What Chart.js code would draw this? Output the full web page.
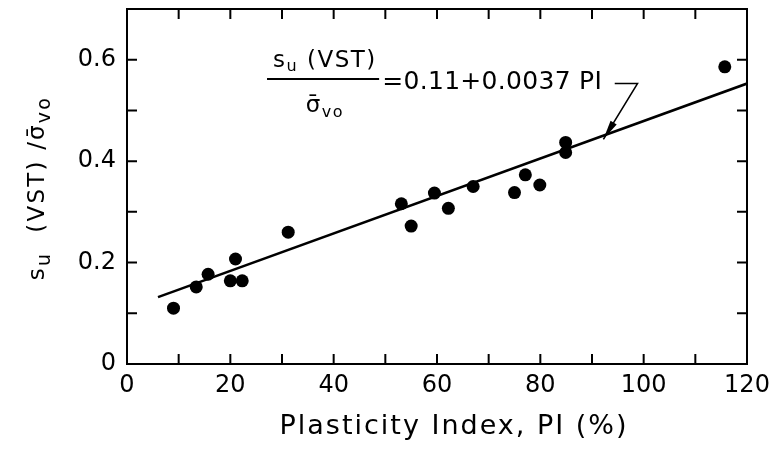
<!DOCTYPE html>
<html>
<head>
<meta charset="utf-8">
<script src="https://cdn.jsdelivr.net/npm/chart.js@4/dist/chart.umd.min.js"></script>
<style>
  html, body { margin: 0; padding: 0; background: #fff; }
  #wrap { width: 772px; height: 450px; }
</style>
</head>
<body>
<div id="wrap"><canvas id="myChart" width="772" height="450"></canvas></div>
<script>
// measured points: plasticity index (%) vs su(VST)/sigma'vo
const piValues = [9, 13.4, 15.7, 20, 21, 22.3, 31.2, 53.1, 55, 59.5, 62.2, 67, 75, 77.1, 79.9, 84.9, 84.9, 115.7];
const ratioValues = [0.11, 0.152, 0.177, 0.164, 0.207, 0.164, 0.26, 0.316, 0.272, 0.337, 0.307, 0.35, 0.338, 0.373, 0.353, 0.437, 0.417, 0.586];

// fitted line end points
const fitPI = [6, 120];
const fitRatio = [0.132, 0.553];

const xTicks = [0, 20, 40, 60, 80, 100, 120];
const yTicks = [0, 0.2, 0.4, 0.6];

const FONT = "'DejaVu Sans', sans-serif";

function drawSub(ctx, parts, x, y, align, spacing) {
  // parts: [text, size, dy]
  ctx.letterSpacing = (spacing || 0) + 'px';
  let total = 0;
  parts.forEach(p => { ctx.font = p[1] + 'px ' + FONT; total += ctx.measureText(p[0]).width; });
  let cx = align === 'center' ? x - total / 2 : x;
  ctx.textAlign = 'left';
  ctx.textBaseline = 'middle';
  parts.forEach(p => {
    ctx.font = p[1] + 'px ' + FONT;
    ctx.fillText(p[0], cx, y + p[2]);
    cx += ctx.measureText(p[0]).width;
  });
  ctx.letterSpacing = '0px';
}

const framePlugin = {
  id: 'frame',
  afterDraw(chart) {
    const { ctx, chartArea: a, scales: { x, y } } = chart;
    ctx.save();
    ctx.strokeStyle = '#000';
    ctx.fillStyle = '#000';
    ctx.lineWidth = 2;
    ctx.strokeRect(a.left, a.top, a.right - a.left, a.bottom - a.top);

    // inward ticks on all four sides
    ctx.beginPath();
    x.ticks.forEach(t => {
      const px = x.getPixelForValue(t.value);
      ctx.moveTo(px, a.bottom); ctx.lineTo(px, a.bottom - 10);
      ctx.moveTo(px, a.top); ctx.lineTo(px, a.top + 10);
    });
    y.ticks.forEach(t => {
      const py = y.getPixelForValue(t.value);
      ctx.moveTo(a.left, py); ctx.lineTo(a.left + 10, py);
      ctx.moveTo(a.right, py); ctx.lineTo(a.right - 10, py);
    });
    ctx.stroke();

    // axis titles
    drawSub(ctx, [['Plasticity Index, PI (%)', 27, 0]], 454, 427, 'center', 2);

    ctx.save();
    ctx.translate(38, 188);
    ctx.rotate(-Math.PI / 2);
    drawSub(ctx, [['s', 23, 0], ['u', 19, 7], ['  (VST) /', 23, 0], ['σ̄', 23, 0], ['vo', 19, 7]], 0, 0, 'center', 2.2);
    ctx.restore();

    // equation annotation
    const nx = x.getPixelForValue(38.3);
    drawSub(ctx, [['s', 23, 0], ['u', 16, 6], [' (VST)', 23, 0]], nx, y.getPixelForValue(0.598), 'center', 1.5);
    drawSub(ctx, [['σ̄', 23, 0], ['vo', 16, 6]], nx, y.getPixelForValue(0.508), 'center', 1.5);
    ctx.lineWidth = 2;
    ctx.beginPath();
    const barY = y.getPixelForValue(0.562);
    ctx.moveTo(x.getPixelForValue(27.1), barY);
    ctx.lineTo(x.getPixelForValue(48.8), barY);
    ctx.stroke();
    drawSub(ctx, [['=0.11+0.0037 PI', 25, 0]], x.getPixelForValue(49.4), y.getPixelForValue(0.556), 'left', 0.3);

    // leader arrow to the fitted line
    const p1 = [x.getPixelForValue(94.4), y.getPixelForValue(0.553)];
    const p2 = [x.getPixelForValue(98.8), y.getPixelForValue(0.553)];
    const p3 = [x.getPixelForValue(92.2), y.getPixelForValue(0.443)];
    ctx.lineWidth = 1.6;
    ctx.beginPath();
    ctx.moveTo(p1[0], p1[1]); ctx.lineTo(p2[0], p2[1]); ctx.lineTo(p3[0], p3[1]);
    ctx.stroke();
    const ang = Math.atan2(p3[1] - p2[1], p3[0] - p2[0]);
    ctx.beginPath();
    ctx.moveTo(p3[0], p3[1]);
    ctx.lineTo(p3[0] - 20 * Math.cos(ang - 0.18), p3[1] - 20 * Math.sin(ang - 0.18));
    ctx.lineTo(p3[0] - 20 * Math.cos(ang + 0.18), p3[1] - 20 * Math.sin(ang + 0.18));
    ctx.closePath();
    ctx.fill();
    ctx.restore();
  }
};

const ctx = document.getElementById('myChart');

new Chart(ctx, {
  type: 'scatter',
  data: {
    datasets: [
      {
        label: 'VST',
        data: piValues.map((v, i) => ({ x: v, y: ratioValues[i] })),
        backgroundColor: '#000',
        borderWidth: 0,
        pointRadius: 6.5,
        pointHoverRadius: 6.5
      },
      {
        type: 'line',
        label: 'fit',
        data: fitPI.map((v, i) => ({ x: v, y: fitRatio[i] })),
        borderColor: '#000',
        borderWidth: 2.5,
        pointRadius: 0,
        fill: false
      }
    ]
  },
  options: {
    responsive: false,
    animation: false,
    layout: { padding: { top: 9, right: 25, left: 0, bottom: 0 } },
    plugins: {
      legend: { display: false },
      tooltip: { enabled: false }
    },
    scales: {
      x: {
        type: 'linear',
        min: 0,
        max: 120,
        grid: { display: false, drawTicks: false },
        border: { display: false },
        ticks: {
          stepSize: 10,
          autoSkip: false,
          maxRotation: 0,
          padding: 7,
          color: '#000',
          font: { family: FONT, size: 24 },
          callback: v => xTicks.includes(v) ? String(v) : ''
        },
        afterFit: s => { s.height = 86; s.paddingLeft = 0; s.paddingRight = 0; }
      },
      y: {
        type: 'linear',
        min: 0,
        max: 0.7,
        grid: { display: false, drawTicks: false },
        border: { display: false },
        ticks: {
          stepSize: 0.1,
          autoSkip: false,
          padding: 11,
          color: '#000',
          font: { family: FONT, size: 24 },
          callback: v => {
            const r = Math.round(v * 10) / 10;
            if (!yTicks.includes(r)) return '';
            return r === 0 ? '0' : r.toFixed(1);
          }
        },
        afterFit: s => { s.width = 127; s.paddingTop = 0; s.paddingBottom = 0; }
      }
    }
  },
  plugins: [framePlugin]
});
</script>
</body>
</html>
